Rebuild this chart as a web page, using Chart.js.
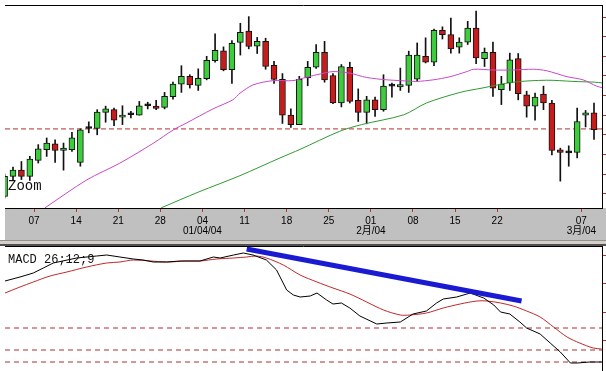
<!DOCTYPE html>
<html>
<head>
<meta charset="utf-8">
<script src="https://cdn.jsdelivr.net/npm/chart.js@4.4.1/dist/chart.umd.min.js"></script>
<style>
  html, body { margin: 0; padding: 0; background: #fff; width: 606px; height: 371px; overflow: hidden; }
  #wrap { position: relative; width: 606px; height: 371px; }
  canvas { position: absolute; left: 0; }
  #price { top: 0; }
  #macd { top: 246px; }
  #split { position: absolute; left: 0; top: 240px; width: 606px; height: 6px; background: #d4d0c8;
           border-top: 1px solid #909090; border-bottom: 2px solid #505050; box-sizing: border-box; }
  .lbl { position: absolute; font-family: "Liberation Mono", monospace; color: #111; white-space: nowrap; }
</style>
</head>
<body>
<div id="wrap">
  <canvas id="price" width="606" height="240"></canvas>
  <div id="split"></div>
  <canvas id="macd" width="606" height="125"></canvas>
  <div class="lbl" style="left:8px; top:179px; font-size:14px; line-height:14px;">Zoom</div>
  <div class="lbl" style="left:8px; top:254px; font-size:12px; line-height:12px;">MACD 26;12;9</div>
</div>
<script>
// daily candles, 2 Dec 2003 .. 9 Mar 2004 (one slot per trading day)
const open  = [7.93, 8.44, 8.60, 8.44, 8.85, 9.12, 9.27, 9.10, 9.12, 8.80,
               9.66, 9.66, 10.07, 10.14, 9.95, 10.01, 10.00, 10.24, 10.23, 10.20,
               10.47, 10.79, 10.99, 10.76, 10.93, 11.39, 11.64, 11.16, 11.85, 12.14,
               11.76, 11.88, 11.27, 10.91, 10.00, 9.76, 10.95, 11.22, 11.60, 11.01,
               10.31, 11.22, 10.38, 10.07, 10.39, 10.14, 10.74, 10.72, 10.76, 10.92,
               11.50, 11.35, 12.16, 12.05, 11.73, 11.86, 12.22, 11.44, 11.60, 10.65,
               10.82, 11.44, 10.52, 10.23, 10.54, 10.31, 9.12, 9.04, 9.05, 10.00, 10.06];
const high  = [8.50, 8.68, 8.82, 8.95, 9.25, 9.42, 9.37, 9.29, 9.56, 9.65,
               9.83, 10.14, 10.23, 10.18, 10.24, 10.10, 10.35, 10.33, 10.38, 10.58,
               10.84, 11.26, 11.03, 11.18, 11.50, 12.07, 11.74, 11.90, 12.34, 12.51,
               11.98, 11.96, 11.37, 11.06, 10.16, 10.99, 11.37, 11.80, 11.88, 11.06,
               11.29, 11.35, 10.67, 10.48, 10.46, 11.03, 10.82, 11.20, 11.63, 11.84,
               11.97, 12.19, 12.25, 12.47, 11.97, 12.39, 12.65, 11.71, 11.86, 10.99,
               11.58, 11.57, 10.61, 10.56, 10.74, 10.38, 9.16, 9.22, 10.18, 10.12, 10.31];
const low   = [7.89, 8.36, 8.36, 8.34, 8.78, 8.95, 8.80, 8.60, 9.08, 8.70,
               9.55, 9.50, 9.82, 9.73, 9.76, 9.93, 10.00, 10.16, 10.14, 10.16,
               10.41, 10.58, 10.69, 10.63, 10.90, 11.35, 11.13, 10.81, 11.53, 11.69,
               11.57, 11.17, 10.81, 9.79, 9.69, 9.76, 10.75, 11.19, 10.84, 10.29,
               10.21, 10.31, 9.84, 9.78, 9.97, 10.10, 10.46, 10.63, 10.58, 10.86,
               11.33, 11.26, 11.94, 11.58, 11.58, 11.80, 11.31, 11.24, 10.48, 10.27,
               10.63, 10.39, 9.95, 9.87, 10.14, 8.99, 8.32, 8.70, 8.91, 9.70, 9.38];
const close = [8.44, 8.60, 8.44, 8.88, 9.14, 9.29, 9.10, 9.16, 9.42, 9.63,
               9.66, 10.08, 10.16, 9.87, 10.00, 10.01, 10.24, 10.24, 10.17, 10.48,
               10.79, 10.99, 10.77, 10.94, 11.40, 11.65, 11.16, 11.83, 12.11, 11.75,
               11.88, 11.24, 10.91, 10.00, 9.76, 10.91, 11.22, 11.60, 10.90, 10.31,
               11.24, 10.35, 10.07, 10.39, 10.14, 10.74, 10.74, 10.78, 11.53, 11.53,
               11.35, 12.16, 12.05, 11.69, 11.86, 12.22, 11.46, 11.60, 10.69, 10.79,
               11.41, 10.55, 10.23, 10.46, 10.31, 9.10, 9.05, 9.04, 9.84, 10.06, 9.63];

// week boundaries (between Friday and Monday)
const weekTicks  = [3.5, 8.5, 13.5, 18.5, 23.5, 28.5, 33.5, 38.5, 43.5, 48.5, 53.5, 58.5, 68.5];
const weekLabels = ['07', '14', '21', '28', ['04', '01/04/04'], '11', '18', '25',
                    ['01', '2月/04'], '08', '15', '22', ['07', '3月/04']];
const priceTicks = [8.0, 8.5, 9.0, 9.5, 10.0, 10.5, 11.0, 11.5, 12.0, 12.5];
const priceLevel = 9.65;

// moving averages
const maPinkIdx  = [4.8, 9.75, 13.7, 17.7, 20.0, 21.6, 24.75, 27.1, 27.96, 29.5, 31.9, 34.25, 35.9, 37.5,
                    39.0, 41.0, 43.0, 45.4, 47.0, 48.9, 50.9, 52.9, 54.9, 55.7, 58.0, 60.4, 62.8, 64.4,
                    66.8, 68.7, 70.3, 71.0];
const maPinkVal  = [7.64, 8.35, 8.78, 9.29, 9.62, 9.80, 10.16, 10.39, 10.56, 10.77, 10.88, 10.88, 10.97, 11.05,
                    11.11, 11.07, 10.96, 10.90, 10.88, 10.86, 10.90, 10.98, 11.11, 11.17, 11.15, 11.15, 11.17, 11.13,
                    10.98, 10.90, 10.74, 10.70];
const maGreenIdx = [18.6, 23.0, 27.96, 32.7, 35.1, 39.8, 42.4, 47.4, 50.1, 54.1, 56.7, 60.4, 64.4, 67.5, 70.1, 71.0];
const maGreenVal = [7.64, 8.04, 8.46, 8.91, 9.13, 9.59, 9.76, 10.01, 10.31, 10.58, 10.69, 10.84, 10.89, 10.86, 10.84, 10.82];

// MACD panel
const macdIdx   = [0.05, 1.83, 3.41, 4.6, 5.78, 8.56, 10.94, 12.13, 13.7, 15.29, 16.47, 17.66, 19.25, 20.83,
                   23.2, 24.8, 25.6, 27.2, 28.35, 29.5, 31.1, 32.3, 33.5, 34.3, 35.1, 36.3, 37.1, 38.25,
                   39.0, 40.0, 41.0, 42.2, 44.2, 45.4, 47.0, 48.5, 50.1, 51.3, 52.1, 53.7, 54.9, 55.3,
                   56.9, 58.1, 58.9, 60.0, 61.2, 62.0, 63.6, 64.8, 66.0, 67.2, 68.0, 69.5, 70.9];
const macdVal   = [0.47, 0.51, 0.55, 0.60, 0.65, 0.70, 0.72, 0.73, 0.71, 0.69, 0.68, 0.66, 0.66, 0.67,
                   0.67, 0.71, 0.70, 0.73, 0.75, 0.73, 0.68, 0.58, 0.38, 0.33, 0.31, 0.32, 0.35, 0.28,
                   0.24, 0.25, 0.20, 0.12, 0.04, 0.05, 0.06, 0.14, 0.17, 0.25, 0.29, 0.31, 0.34, 0.35,
                   0.30, 0.23, 0.16, 0.14, 0.06, 0.00, -0.06, -0.15, -0.24, -0.35, -0.35, -0.34, -0.34];
const signalIdx = [0.05, 1.83, 3.41, 5.4, 7.4, 9.75, 12.13, 13.7, 15.3, 19.25, 21.6, 23.2, 25.2, 27.2,
                   28.75, 29.9, 31.1, 33.1, 35.1, 37.1, 39.0, 41.0, 43.0, 45.0, 47.0, 48.1, 50.1, 52.1,
                   54.1, 56.1, 57.3, 58.9, 60.4, 62.0, 63.6, 65.2, 66.8, 68.3, 69.9, 70.9];
const signalVal = [0.35, 0.41, 0.46, 0.52, 0.56, 0.61, 0.65, 0.66, 0.68, 0.66, 0.67, 0.67, 0.69, 0.70,
                   0.71, 0.72, 0.70, 0.63, 0.53, 0.46, 0.40, 0.34, 0.26, 0.18, 0.13, 0.13, 0.15, 0.20,
                   0.24, 0.27, 0.27, 0.25, 0.22, 0.17, 0.11, 0.01, -0.09, -0.15, -0.20, -0.21];
const trendIdx  = [28.75, 61.4];
const trendVal  = [0.79, 0.27];
const macdLevels = [0, -0.22, -0.34];
const macdTicks  = [0.73, 0.45, 0.16, -0.12];

const GREEN = '#3ccc3c', RED = '#c81c1c';
const X_MIN = 0.05, X_MAX = 70.95;

const pts = (xs, ys) => xs.map((x, i) => ({x: x, y: ys[i]}));
const flat = v => [{x: X_MIN, y: v}, {x: X_MAX, y: v}];
const bodyColor = i => close[i] > open[i] ? GREEN : (close[i] < open[i] ? RED : '#000');

// gray date band under the price panel and the top frame line
const frame = {
  id: 'frame',
  beforeDraw(chart, args, opts) {
    const {ctx, chartArea: a, width, height} = chart;
    if (opts.band) {
      ctx.fillStyle = '#c0c0c0';
      ctx.fillRect(a.left, a.bottom, width - a.left, height - a.bottom);
    }
  },
  afterDraw(chart) {
    const {ctx, chartArea: a} = chart;
    ctx.save();
    ctx.strokeStyle = '#000';
    ctx.lineWidth = 1;
    ctx.beginPath();
    ctx.moveTo(a.left, a.top + 0.5);
    ctx.lineTo(a.right, a.top + 0.5);
    ctx.stroke();
    ctx.restore();
  }
};

const rightAxis = (min, max, ticks) => ({
  type: 'linear',
  position: 'right',
  min: min,
  max: max,
  afterBuildTicks: s => { s.ticks = ticks.map(v => ({value: v})); },
  afterFit: s => { s.width = 4; },
  ticks: {display: false},
  grid: {drawOnChartArea: false, drawTicks: true, tickLength: 4, color: '#c03030'},
  border: {display: true, color: '#000', width: 1}
});

new Chart(document.getElementById('price'), {
  type: 'bar',
  data: {
    datasets: [
      {type: 'line', data: pts(maPinkIdx, maPinkVal), borderColor: '#c848c8', borderWidth: 1,
       pointRadius: 0, tension: 0.3, order: 0},
      {type: 'line', data: pts(maGreenIdx, maGreenVal), borderColor: '#2f9a2f', borderWidth: 1,
       pointRadius: 0, tension: 0.3, order: 0},
      {data: open.map((o, i) => ({x: i, y: [o, close[i]]})),
       backgroundColor: ctx => bodyColor(ctx.dataIndex),
       borderColor: '#111', borderWidth: 1, borderSkipped: false,
       barThickness: 6, minBarLength: 2, grouped: false, order: 1},
      {data: low.map((l, i) => ({x: i, y: [l, high[i]]})),
       backgroundColor: '#111', borderWidth: 0,
       barThickness: 1, grouped: false, order: 2},
      {type: 'line', data: flat(priceLevel), borderColor: '#b03030', borderWidth: 1,
       borderDash: [5, 3], pointRadius: 0, order: 3}
    ]
  },
  options: {
    responsive: false,
    animation: false,
    layout: {padding: {left: 5, top: 5, right: 0, bottom: 0}},
    plugins: {legend: {display: false}, tooltip: {enabled: false}, frame: {band: true}},
    scales: {
      x: {
        type: 'linear',
        min: X_MIN,
        max: X_MAX,
        offset: false,
        afterBuildTicks: s => { s.ticks = weekTicks.map(v => ({value: v})); },
        afterFit: s => { s.height = 32; },
        ticks: {
          callback: (v, i) => weekLabels[i],
          autoSkip: false, maxRotation: 0, minRotation: 0, padding: 4,
          color: '#000',
          font: {family: "'Liberation Sans', 'Noto Sans CJK SC', sans-serif", size: 10, lineHeight: 1.0}
        },
        grid: {offset: false, drawOnChartArea: false, drawTicks: true, tickLength: 4, color: '#c03030'},
        border: {display: true, color: '#000', width: 1}
      },
      y: rightAxis(7.636, 12.806, priceTicks)
    }
  },
  plugins: [frame]
});

new Chart(document.getElementById('macd'), {
  type: 'line',
  data: {
    datasets: [
      {data: pts(trendIdx, trendVal), borderColor: '#1a1ad2', borderWidth: 5, pointRadius: 0, order: 0},
      {data: pts(macdIdx, macdVal), borderColor: '#000', borderWidth: 1, pointRadius: 0, order: 1},
      {data: pts(signalIdx, signalVal), borderColor: '#c02828', borderWidth: 1, pointRadius: 0,
       tension: 0.3, order: 2}
    ].concat(macdLevels.map(v => ({
      data: flat(v), borderColor: '#a83030', borderWidth: 1, borderDash: [5, 4], pointRadius: 0, order: 3
    })))
  },
  options: {
    responsive: false,
    animation: false,
    layout: {padding: {left: 5, top: 0, right: 0, bottom: 0}},
    plugins: {legend: {display: false}, tooltip: {enabled: false}, frame: {band: false}},
    scales: {
      x: {type: 'linear', min: X_MIN, max: X_MAX, display: false},
      y: rightAxis(-0.43, 0.82, macdTicks)
    }
  },
  plugins: [frame]
});
</script>
</body>
</html>
